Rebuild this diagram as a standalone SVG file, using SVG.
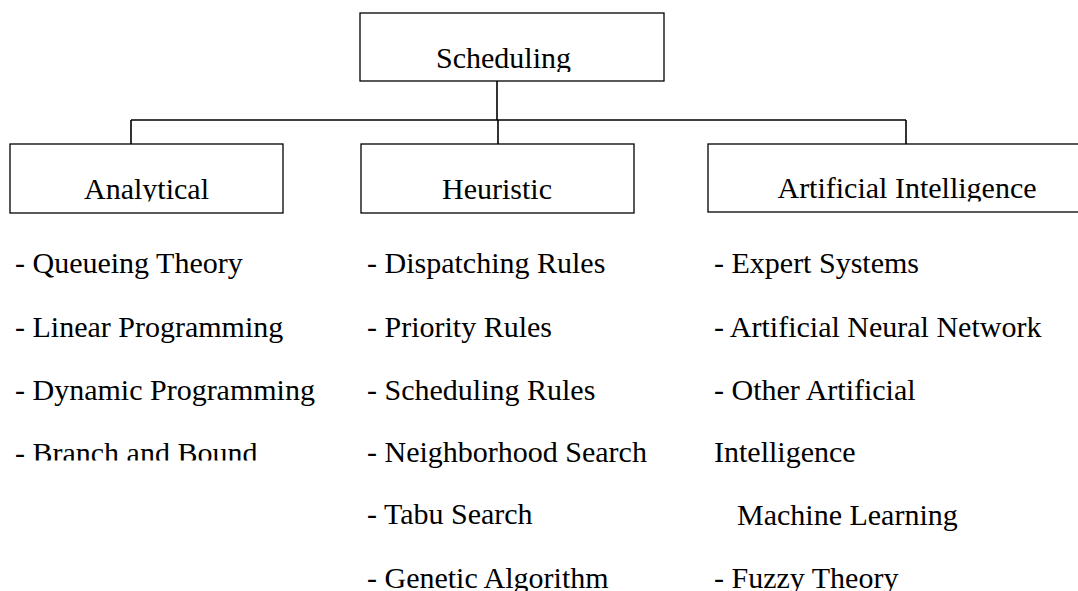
<svg xmlns="http://www.w3.org/2000/svg" width="1078" height="591" viewBox="0 0 1078 591">
<style>
.box{fill:#fff;stroke:#000;stroke-width:1.3}
.con{fill:none;stroke:#000;stroke-width:1.6}
text{font-family:"Liberation Serif","Times New Roman",serif;font-size:30px;fill:#000}
.c{text-anchor:middle}
</style>
<defs>
<clipPath id="clipTop"><rect x="0" y="0" width="1078" height="72"/></clipPath>
<clipPath id="clipMid"><rect x="0" y="0" width="1078" height="201.5"/></clipPath>
<clipPath id="clipBB"><rect x="0" y="0" width="1078" height="460.5"/></clipPath>
</defs>
<rect width="1078" height="591" fill="#fff"/>
<g id="connectors">
<path class="con" d="M497,81 V120 M131,120 H906 M131,120 V144 M498,120 V144 M906,120 V144"/>
</g>
<g id="scheduling">
<rect class="box" x="360" y="13" width="304" height="68"/>
<text class="c" x="503.5" y="68" clip-path="url(#clipTop)">Scheduling</text>
</g>
<g id="analytical">
<rect class="box" x="10" y="144" width="273" height="69"/>
<text class="c" x="146.5" y="199" clip-path="url(#clipMid)">Analytical</text>
</g>
<g id="heuristic">
<rect class="box" x="361" y="144" width="273" height="69"/>
<text class="c" x="497" y="199">Heuristic</text>
</g>
<g id="ai">
<rect class="box" x="708" y="144" width="398" height="68"/>
<text class="c" x="907" y="198" clip-path="url(#clipMid)">Artificial Intelligence</text>
</g>
<g id="analytical-list">
<text x="15" y="273">- Queueing Theory</text>
<text x="15" y="337">- Linear Programming</text>
<text x="15" y="400">- Dynamic Programming</text>
<text x="15" y="463" clip-path="url(#clipBB)">- Branch and Bound</text>
</g>
<g id="heuristic-list">
<text x="367" y="273">- Dispatching Rules</text>
<text x="367" y="337">- Priority Rules</text>
<text x="367" y="400">- Scheduling Rules</text>
<text x="367" y="462">- Neighborhood Search</text>
<text x="367" y="524">- Tabu Search</text>
<text x="367" y="588">- Genetic Algorithm</text>
</g>
<g id="ai-list">
<text x="714" y="273">- Expert Systems</text>
<text x="714" y="337">- Artificial Neural Network</text>
<text x="714" y="400">- Other Artificial</text>
<text x="714" y="462">Intelligence</text>
<text x="737" y="525">Machine Learning</text>
<text x="714" y="588">- Fuzzy Theory</text>
</g>
</svg>
